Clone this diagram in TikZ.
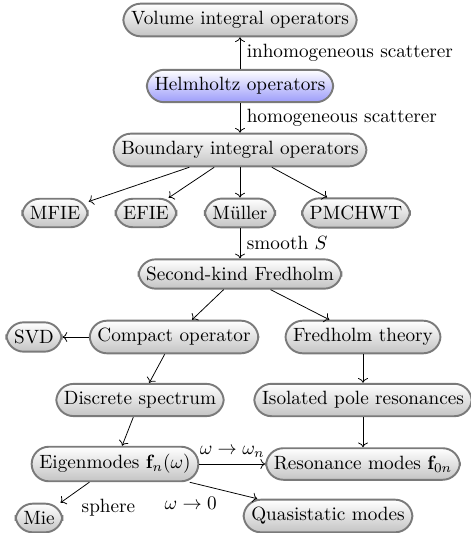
\documentclass[tikz,border=0pt]{standalone}
\usepackage{tikz}
\usetikzlibrary{arrows.meta,positioning,calc}
\definecolor{rim}{HTML}{7A7A7A}
\definecolor{haze}{HTML}{C4C4C4}
\definecolor{lilac}{HTML}{9C9CFA}

\begin{document}
\begin{tikzpicture}[
  x=0.5207pt, y=-0.5207pt,
  op/.style={draw=rim, line width=1pt, rounded corners=9pt, inner sep=4pt, top color=white, bottom color=haze},
  hub/.style={op, bottom color=lilac},
  link/.style={->, black, line width=0.4pt}
]
  \useasboundingbox (0,0) rectangle (470,533);
  \node[op] (vol) at (240,20) {Volume integral operators};
  \node[hub] (helm) at (240,86) {Helmholtz operators};
  \node[op] (bie) at (240,150) {Boundary integral operators};
  \node[op] (mfie) at (55,213) {MFIE};
  \node[op] (efie) at (146,213) {EFIE};
  \node[op] (mull) at (240,213) {M\"uller};
  \node[op] (pmch) at (356,213) {PMCHWT};
  \node[op] (skf) at (240,274) {Second-kind Fredholm};
  \node[op] (svd) at (34,337) {SVD};
  \node[op] (comp) at (174,337) {Compact operator};
  \node[op] (fthy) at (363,337) {Fredholm theory};
  \node[op] (disc) at (140,400) {Discrete spectrum};
  \node[op] (pole) at (363,400) {Isolated pole resonances};
  \node[op] (eig) at (115,464) {Eigenmodes $\mathbf{f}_n(\omega)$};
  \node[op] (res) at (363,464) {Resonance modes $\mathbf{f}_{0n}$};
  \node[op] (mie) at (39,518) {Mie};
  \node[op] (qs) at (328,516) {Quasistatic modes};

  \draw[link] (helm) -- node[right] {inhomogeneous scatterer} (vol);
  \draw[link] (helm) -- node[right] {homogeneous scatterer} (bie);
  \draw[link] (bie) -- (mfie);
  \draw[link] (bie) -- (efie);
  \draw[link] (bie) -- (mull);
  \draw[link] (bie) -- (pmch);
  \draw[link] (mull) -- node[right] {smooth $S$} (skf);
  \draw[link] (skf) -- (comp);
  \draw[link] (skf) -- (fthy);
  \draw[link] (comp) -- (svd);
  \draw[link] (comp) -- (disc);
  \draw[link] (fthy) -- (pole);
  \draw[link] (disc) -- (eig);
  \draw[link] (pole) -- (res);
  \draw[link] (eig) -- node[above] {$\omega\to\omega_n$} (res);
  \draw[link] (eig) -- node[below right] {sphere} (mie);
  \draw[link] (eig) -- node[below left] {$\omega\to 0$} (qs);
\end{tikzpicture}
\end{document}
